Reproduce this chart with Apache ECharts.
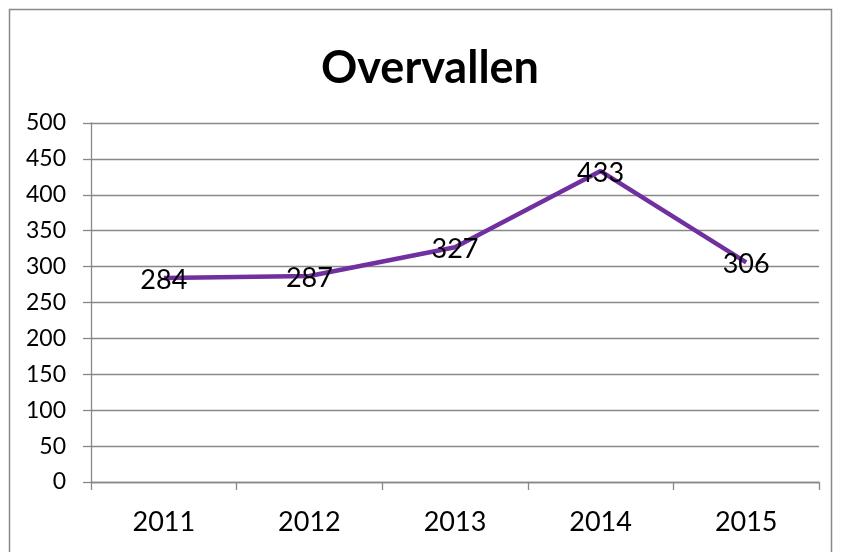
<!DOCTYPE html>
<html><head><meta charset="utf-8">
<script src="https://cdn.jsdelivr.net/npm/echarts@6/dist/echarts.min.js"></script>
<style>html,body{margin:0;padding:0;background:#fff;}#c{width:841px;height:552px;}</style>
</head><body><div id="c"></div>
<script>
const title = 'Overvallen';
const categories = ['2011','2012','2013','2014','2015'];
const values = [284, 287, 327, 433, 306];
const yMin = 0, yMax = 500, yStep = 50;

const chart = echarts.init(document.getElementById('c'));
const font = 'Lato, "Open Sans", sans-serif';
chart.setOption({
  animation: false,
  backgroundColor: '#fff',
  title: {text: title, left: 316, top: 41,
    textStyle: {fontFamily: font, fontSize: 45, fontWeight: 'bold', color: '#000'}},
  graphic: [{type: 'rect', shape: {x: 9.5, y: 9.5, width: 822, height: 560},
    style: {fill: null, stroke: '#888', lineWidth: 1.5}, silent: true}],
  grid: {left: 91, right: 22, top: 123, bottom: 70},
  xAxis: {type: 'category', data: categories, boundaryGap: true,
    axisLine: {lineStyle: {color: '#888', width: 1.3}},
    axisTick: {show: true, length: 8, alignWithLabel: false, lineStyle: {color: '#888', width: 1.3}},
    axisLabel: {margin: 27, fontFamily: font, fontSize: 27, color: '#000'},
    splitLine: {show: false}},
  yAxis: {type: 'value', min: yMin, max: yMax, interval: yStep,
    axisLine: {show: true, lineStyle: {color: '#888', width: 1.3}},
    axisTick: {show: true, length: 8, lineStyle: {color: '#888', width: 1.3}},
    axisLabel: {margin: 25, fontFamily: font, fontSize: 23, color: '#000'},
    splitLine: {show: true, lineStyle: {color: '#888', width: 1.3}}},
  series: [{type: 'line', data: values, symbol: 'circle', symbolSize: 2, showSymbol: true,
    itemStyle: {color: 'rgba(112,48,160,0)', borderWidth: 0},
    lineStyle: {color: '#7030A0', width: 4.5},
    label: {show: true, position: 'inside', offset: [0, 2], fontFamily: font, fontSize: 27, color: '#000'}}]
});
</script></body></html>
